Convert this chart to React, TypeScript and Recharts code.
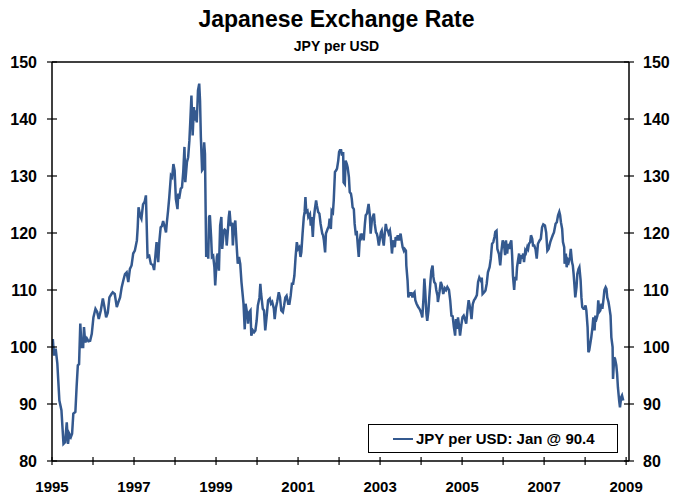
import React from 'react'
import { LineChart, Line, XAxis, YAxis, ReferenceLine, Legend } from 'recharts'

// decimal years
const dates = [
  1995.02, 1995.05, 1995.09, 1995.13, 1995.18, 1995.23, 1995.28, 1995.32, 1995.36, 1995.39,
  1995.42, 1995.46, 1995.49, 1995.52, 1995.57, 1995.60, 1995.63, 1995.66, 1995.69, 1995.72,
  1995.76, 1995.78, 1995.81, 1995.85, 1995.89, 1995.93, 1995.97, 1996.01, 1996.06, 1996.10,
  1996.14, 1996.19, 1996.24, 1996.28, 1996.32, 1996.36, 1996.40, 1996.45, 1996.48, 1996.53,
  1996.58, 1996.62, 1996.66, 1996.70, 1996.74, 1996.78, 1996.82, 1996.86, 1996.90, 1996.94,
  1996.98, 1997.02, 1997.07, 1997.09, 1997.11, 1997.15, 1997.18, 1997.22, 1997.26, 1997.29,
  1997.33, 1997.37, 1997.41, 1997.46, 1997.49, 1997.52, 1997.55, 1997.59, 1997.62, 1997.65,
  1997.68, 1997.71, 1997.75, 1997.78, 1997.80, 1997.83, 1997.86, 1997.90, 1997.93, 1997.96,
  1997.99, 1998.02, 1998.06, 1998.08, 1998.10, 1998.14, 1998.17, 1998.20, 1998.23, 1998.25,
  1998.29, 1998.32, 1998.35, 1998.37, 1998.40, 1998.43, 1998.46, 1998.48, 1998.50, 1998.53,
  1998.56, 1998.59, 1998.61, 1998.63, 1998.66, 1998.68, 1998.71, 1998.73, 1998.76, 1998.78,
  1998.81, 1998.83, 1998.85, 1998.88, 1998.90, 1998.93, 1998.96, 1998.98, 1999.02, 1999.04,
  1999.07, 1999.10, 1999.13, 1999.15, 1999.19, 1999.21, 1999.24, 1999.26, 1999.29, 1999.31,
  1999.33, 1999.36, 1999.39, 1999.41, 1999.44, 1999.47, 1999.50, 1999.53, 1999.56, 1999.59,
  1999.62, 1999.64, 1999.67, 1999.70, 1999.72, 1999.76, 1999.78, 1999.80, 1999.84, 1999.86,
  1999.90, 1999.93, 1999.96, 1999.99, 2000.02, 2000.06, 2000.08, 2000.10, 2000.14, 2000.17,
  2000.20, 2000.24, 2000.27, 2000.31, 2000.34, 2000.37, 2000.41, 2000.43, 2000.46, 2000.49,
  2000.53, 2000.56, 2000.59, 2000.63, 2000.66, 2000.69, 2000.72, 2000.76, 2000.79, 2000.82,
  2000.85, 2000.88, 2000.91, 2000.94, 2000.97, 2001.00, 2001.03, 2001.06, 2001.08, 2001.11,
  2001.14, 2001.16, 2001.18, 2001.20, 2001.23, 2001.25, 2001.29, 2001.31, 2001.33, 2001.36,
  2001.38, 2001.41, 2001.44, 2001.46, 2001.49, 2001.52, 2001.55, 2001.59, 2001.61, 2001.63,
  2001.66, 2001.68, 2001.72, 2001.75, 2001.77, 2001.80, 2001.82, 2001.85, 2001.87, 2001.90,
  2001.93, 2001.95, 2001.98, 2002.00, 2002.02, 2002.05, 2002.07, 2002.10, 2002.11, 2002.14,
  2002.16, 2002.19, 2002.21, 2002.24, 2002.26, 2002.29, 2002.31, 2002.33, 2002.36, 2002.38,
  2002.41, 2002.43, 2002.46, 2002.48, 2002.50, 2002.53, 2002.55, 2002.58, 2002.60, 2002.63,
  2002.65, 2002.68, 2002.70, 2002.72, 2002.75, 2002.77, 2002.80, 2002.82, 2002.85, 2002.87,
  2002.90, 2002.92, 2002.94, 2002.97, 2002.99, 2003.02, 2003.04, 2003.07, 2003.09, 2003.11,
  2003.14, 2003.16, 2003.19, 2003.21, 2003.24, 2003.26, 2003.29, 2003.31, 2003.33, 2003.36,
  2003.38, 2003.41, 2003.43, 2003.46, 2003.48, 2003.50, 2003.53, 2003.55, 2003.58, 2003.60,
  2003.63, 2003.64, 2003.67, 2003.69, 2003.72, 2003.74, 2003.76, 2003.79, 2003.81, 2003.84,
  2003.86, 2003.89, 2003.91, 2003.93, 2003.96, 2003.98, 2004.01, 2004.03, 2004.06, 2004.08,
  2004.10, 2004.13, 2004.15, 2004.18, 2004.20, 2004.23, 2004.25, 2004.28, 2004.30, 2004.32,
  2004.35, 2004.37, 2004.40, 2004.41, 2004.45, 2004.48, 2004.51, 2004.54, 2004.58, 2004.61,
  2004.64, 2004.68, 2004.71, 2004.74, 2004.77, 2004.80, 2004.83, 2004.85, 2004.88, 2004.90,
  2004.93, 2004.95, 2004.98, 2005.01, 2005.04, 2005.07, 2005.10, 2005.13, 2005.16, 2005.20,
  2005.23, 2005.26, 2005.29, 2005.32, 2005.36, 2005.39, 2005.42, 2005.46, 2005.48, 2005.50,
  2005.54, 2005.57, 2005.60, 2005.63, 2005.67, 2005.70, 2005.73, 2005.76, 2005.79, 2005.81,
  2005.84, 2005.86, 2005.90, 2005.93, 2005.96, 2005.99, 2006.02, 2006.05, 2006.07, 2006.10,
  2006.12, 2006.15, 2006.17, 2006.20, 2006.22, 2006.24, 2006.27, 2006.29, 2006.32, 2006.34,
  2006.37, 2006.39, 2006.41, 2006.44, 2006.46, 2006.49, 2006.51, 2006.54, 2006.56, 2006.59,
  2006.61, 2006.63, 2006.66, 2006.68, 2006.71, 2006.73, 2006.76, 2006.79, 2006.82, 2006.85,
  2006.89, 2006.92, 2006.95, 2006.98, 2007.02, 2007.05, 2007.08, 2007.11, 2007.15, 2007.18,
  2007.21, 2007.24, 2007.28, 2007.31, 2007.34, 2007.37, 2007.39, 2007.41, 2007.44, 2007.46,
  2007.49, 2007.50, 2007.53, 2007.55, 2007.58, 2007.60, 2007.63, 2007.65, 2007.68, 2007.70,
  2007.72, 2007.74, 2007.76, 2007.79, 2007.81, 2007.84, 2007.86, 2007.89, 2007.91, 2007.93,
  2007.96, 2007.98, 2008.01, 2008.03, 2008.06, 2008.08, 2008.10, 2008.13, 2008.15, 2008.18,
  2008.20, 2008.23, 2008.25, 2008.28, 2008.30, 2008.32, 2008.35, 2008.37, 2008.40, 2008.42,
  2008.45, 2008.47, 2008.50, 2008.52, 2008.54, 2008.57, 2008.59, 2008.62, 2008.64, 2008.67,
  2008.68, 2008.71, 2008.73, 2008.76, 2008.78, 2008.80, 2008.83, 2008.85, 2008.88, 2008.90,
  2008.93,
]

// JPY per USD
const jpy = [
  101.4, 98.5, 99.7, 97.1, 90.6, 88.9, 83.0, 83.3, 86.8, 83.0,
  84.8, 84.2, 84.8, 88.3, 88.6, 93.0, 96.8, 97.0, 104.1, 100.0,
  100.0, 103.5, 100.8, 101.5, 101.0, 101.1, 102.3, 105.2, 106.7, 106.2,
  104.9, 106.4, 108.5, 107.0, 105.2, 106.0, 108.7, 109.3, 109.6, 109.3,
  107.0, 107.9, 108.7, 110.5, 111.7, 112.8, 113.1, 111.4, 113.7, 114.3,
  116.4, 116.9, 118.7, 121.0, 124.5, 123.0, 122.5, 125.0, 125.5, 126.6,
  115.8, 116.0, 114.6, 114.4, 113.5, 115.9, 118.4, 114.9, 118.7, 121.0,
  121.2, 122.1, 121.0, 120.1, 121.8, 123.9, 126.3, 130.1, 129.8, 132.1,
  131.0, 126.0, 124.2, 126.9, 126.0, 127.8, 128.0, 130.7, 135.1, 128.9,
  132.4, 133.3, 136.2, 139.2, 144.1, 137.1, 142.1, 139.7, 141.5, 139.4,
  145.0, 146.2, 143.2, 136.8, 131.0, 131.2, 135.9, 133.9, 115.8, 118.1,
  115.5, 122.8, 123.1, 119.3, 115.8, 116.0, 114.0, 110.8, 115.8, 116.4,
  113.4, 121.3, 122.8, 117.2, 120.4, 120.6, 120.4, 117.8, 120.6, 122.8,
  123.9, 121.2, 121.8, 117.8, 121.2, 122.2, 118.1, 114.6, 115.8, 114.6,
  111.4, 109.9, 107.6, 103.1, 107.6, 105.8, 104.1, 106.0, 106.4, 102.0,
  102.9, 102.6, 102.9, 104.6, 107.3, 108.7, 111.1, 109.3, 106.7, 106.4,
  102.9, 105.8, 108.2, 108.5, 107.6, 107.9, 106.7, 104.9, 106.9, 107.9,
  109.6, 108.7, 106.4, 106.1, 107.3, 108.7, 109.0, 107.6, 107.6, 109.0,
  111.1, 111.1, 112.5, 115.8, 118.4, 117.2, 117.5, 115.8, 116.6, 119.9,
  122.8, 123.7, 126.3, 123.7, 123.9, 122.8, 123.3, 121.3, 122.8, 119.3,
  122.2, 124.2, 125.7, 124.8, 123.7, 123.4, 121.6, 119.9, 119.6, 118.7,
  116.6, 119.9, 120.7, 121.2, 122.5, 120.7, 123.9, 123.6, 125.7, 130.7,
  131.0, 131.3, 132.7, 134.2, 134.5, 134.5, 133.6, 134.2, 128.9, 128.6,
  132.7, 132.1, 131.5, 129.8, 127.2, 126.9, 126.0, 124.5, 124.2, 121.6,
  119.6, 120.4, 117.5, 115.8, 118.4, 119.9, 119.3, 119.9, 118.7, 121.6,
  123.1, 123.4, 124.2, 125.1, 123.1, 119.9, 122.2, 122.8, 123.4, 121.6,
  120.1, 119.9, 119.3, 117.8, 118.7, 120.1, 120.4, 118.7, 117.8, 119.6,
  121.6, 120.7, 120.4, 119.9, 120.4, 119.3, 116.4, 118.1, 118.7, 117.5,
  119.3, 118.7, 119.6, 118.7, 119.3, 119.9, 118.4, 117.5, 116.9, 117.2,
  116.9, 114.3, 111.7, 108.7, 109.6, 109.0, 109.6, 108.7, 109.3, 109.6,
  108.2, 107.6, 107.3, 107.0, 106.7, 106.4, 105.8, 105.2, 108.7, 112.0,
  109.9, 105.8, 104.6, 106.4, 108.7, 111.7, 113.4, 114.3, 112.3, 111.4,
  111.1, 110.0, 109.0, 107.9, 109.7, 111.4, 110.8, 109.3, 110.3, 110.0,
  110.5, 110.0, 108.2, 105.5, 105.4, 103.5, 102.0, 104.9, 103.2, 105.2,
  103.5, 102.0, 103.8, 105.2, 105.5, 104.9, 104.1, 106.4, 108.2, 106.7,
  104.9, 107.5, 108.2, 108.5, 109.1, 111.4, 112.2, 111.6, 112.2, 109.3,
  109.6, 109.9, 111.1, 113.1, 114.0, 115.5, 118.1, 118.4, 119.3, 120.2,
  120.4, 117.2, 116.3, 114.3, 116.9, 118.7, 118.1, 116.1, 118.7, 116.4,
  118.1, 117.2, 118.1, 118.7, 116.1, 112.5, 110.0, 112.3, 111.7, 114.0,
  115.5, 116.4, 114.6, 116.1, 115.5, 116.4, 114.9, 116.9, 116.6, 117.5,
  117.2, 118.1, 118.4, 119.6, 119.0, 117.8, 117.8, 117.2, 115.5, 118.1,
  118.7, 119.0, 121.0, 121.5, 121.3, 120.1, 116.9, 117.2, 118.4, 119.0,
  119.6, 120.1, 121.6, 121.9, 123.1, 123.7, 123.1, 121.9, 120.7, 118.4,
  117.5, 114.6, 116.4, 114.0, 115.2, 114.9, 115.8, 117.2, 114.9, 114.3,
  112.8, 110.8, 108.7, 110.5, 112.8, 113.7, 114.0, 111.7, 108.7, 107.0,
  106.7, 106.7, 107.3, 106.4, 103.5, 99.1, 99.4, 100.8, 101.7, 103.5,
  105.2, 102.9, 105.5, 105.0, 105.5, 108.2, 106.2, 106.4, 107.6, 106.7,
  108.5, 110.0, 110.5, 110.2, 108.7, 107.9, 107.0, 105.5, 101.7, 100.0,
  94.4, 98.2, 97.9, 96.8, 95.3, 92.9, 90.6, 89.4, 91.2, 91.5,
  90.6,
]

const yearTicks = [1995, 1996, 1997, 1998, 1999, 2000, 2001, 2002, 2003, 2004, 2005, 2006, 2007, 2008, 2009]
const valueTicks = [80, 90, 100, 110, 120, 130, 140, 150]

const data = dates.map((t, i) => ({ t, jpy: jpy[i] }))

const LINE_COLOR = '#34598f'
const tickFont = { fontSize: 16, fontWeight: 700, fill: '#000' }
const xTickFont = { fontSize: 15, fontWeight: 700, fill: '#000' }

function LegendBox() {
  return (
    <div
      style={{
        width: 250,
        height: 29,
        boxSizing: 'border-box',
        border: '1px solid #000',
        background: '#fff',
        display: 'flex',
        alignItems: 'center',
      }}
    >
      <span style={{ display: 'inline-block', width: 20, borderTop: `2.5px solid ${LINE_COLOR}`, marginLeft: 24, marginRight: 3 }} />
      <span style={{ fontSize: 15, fontWeight: 700, color: '#000', whiteSpace: 'nowrap' }}>JPY per USD: Jan @ 90.4</span>
    </div>
  )
}

export default function App() {
  return (
    <div style={{ position: 'relative', width: 673, height: 495, fontFamily: '"Liberation Sans", Arial, sans-serif', background: '#fff' }}>
      <style>{'body { margin: 0; }'}</style>
      <div style={{ position: 'absolute', top: 6, left: 0, width: 673, textAlign: 'center', fontSize: 23, lineHeight: '26px', fontWeight: 700 }}>
        Japanese Exchange Rate
      </div>
      <div style={{ position: 'absolute', top: 38, left: 0, width: 673, textAlign: 'center', fontSize: 14, lineHeight: '16px', fontWeight: 700 }}>
        JPY per USD
      </div>
      <LineChart width={673} height={495} data={data} margin={{ top: 62, right: 0, left: 0, bottom: 0 }}>
        <XAxis
          dataKey="t"
          type="number"
          domain={[1995, 2009.07]}
          ticks={yearTicks}
          interval={0}
          allowDataOverflow
          tickFormatter={(y: number) => ((y - 1995) % 2 === 0 ? String(y) : '')}
          height={34}
          tickSize={8}
          tickMargin={12}
          tick={xTickFont}
          axisLine={{ stroke: '#000', strokeWidth: 1.5 }}
          tickLine={{ stroke: '#000', strokeWidth: 1.2, transform: 'translate(0,-4)' }}
        />
        <YAxis
          yAxisId="left"
          domain={[80, 150]}
          ticks={valueTicks}
          interval={0}
          allowDataOverflow
          width={52}
          tickSize={10}
          tickMargin={5}
          tick={tickFont}
          axisLine={{ stroke: '#000', strokeWidth: 1.5 }}
          tickLine={{ stroke: '#000', strokeWidth: 1.2, transform: 'translate(5,0)' }}
        />
        <YAxis
          yAxisId="right"
          orientation="right"
          domain={[80, 150]}
          ticks={valueTicks}
          interval={0}
          allowDataOverflow
          width={44}
          tickSize={10}
          tickMargin={4}
          tick={tickFont}
          axisLine={{ stroke: '#000', strokeWidth: 1.5 }}
          tickLine={{ stroke: '#000', strokeWidth: 1.2, transform: 'translate(-5,0)' }}
        />
        <ReferenceLine yAxisId="left" y={150} stroke="#000" strokeWidth={1.5} />
        <Legend
          layout="horizontal"
          align="center"
          verticalAlign="middle"
          wrapperStyle={{ left: 368, top: 424, width: 250, height: 29 }}
          content={() => <LegendBox />}
        />
        <Line
          yAxisId="left"
          type="linear"
          dataKey="jpy"
          name="JPY per USD"
          stroke={LINE_COLOR}
          strokeWidth={2.5}
          dot={false}
          isAnimationActive={false}
        />
      </LineChart>
    </div>
  )
}
